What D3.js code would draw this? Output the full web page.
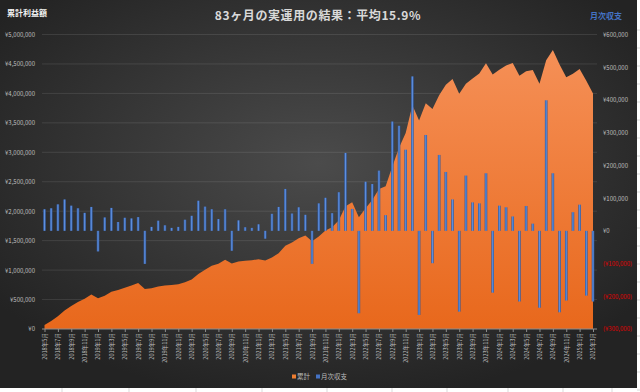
<!DOCTYPE html>
<html>
<head>
<meta charset="utf-8">
<script src="https://cdn.jsdelivr.net/npm/d3@7/dist/d3.min.js"></script>
<style>
  body { margin: 0; background: #fff; }
  text { font-family: "Noto Sans CJK JP", "Noto Sans", sans-serif; }
</style>
</head>
<body>
<svg id="chart" width="640" height="392"></svg>
<script>
// categories: 83 months, 2018年5月 .. 2025年3月
const months = [
  "2018年5月","2018年6月","2018年7月","2018年8月","2018年9月","2018年10月","2018年11月","2018年12月",
  "2019年1月","2019年2月","2019年3月","2019年4月","2019年5月","2019年6月","2019年7月","2019年8月","2019年9月","2019年10月","2019年11月","2019年12月",
  "2020年1月","2020年2月","2020年3月","2020年4月","2020年5月","2020年6月","2020年7月","2020年8月","2020年9月","2020年10月","2020年11月","2020年12月",
  "2021年1月","2021年2月","2021年3月","2021年4月","2021年5月","2021年6月","2021年7月","2021年8月","2021年9月","2021年10月","2021年11月","2021年12月",
  "2022年1月","2022年2月","2022年3月","2022年4月","2022年5月","2022年6月","2022年7月","2022年8月","2022年9月","2022年10月","2022年11月","2022年12月",
  "2023年1月","2023年2月","2023年3月","2023年4月","2023年5月","2023年6月","2023年7月","2023年8月","2023年9月","2023年10月","2023年11月","2023年12月",
  "2024年1月","2024年2月","2024年3月","2024年4月","2024年5月","2024年6月","2024年7月","2024年8月","2024年9月","2024年10月","2024年11月","2024年12月",
  "2025年1月","2025年2月","2025年3月"
];

// 月次収支 (yen)
const monthly = [
  66000, 69000, 81000, 96000, 77000, 69000, 55000, 73000,
  -63000, 41000, 70000, 27000, 40000, 38000, 42000, -101000, 12000, 31000, 17000, 9000,
  12000, 34000, 46000, 92000, 74000, 66000, 36000, 66000, -61000, 32000, 11000, 9000,
  20000, -24000, 52000, 73000, 128000, 53000, 72000, 49000, -101000, 84000, 101000, 54000,
  118000, 238000, 67000, -252000, 150000, 143000, 184000, 48000, 334000, 321000, 248000, 472000,
  -257000, 293000, -99000, 232000, 180000, 96000, -247000, 169000, 87000, 84000, 176000, -189000,
  77000, 72000, 44000, -216000, 76000, 22000, -235000, 399000, 176000, -249000, -213000, 57000,
  80000, -198000, -216000
];

// 累計 (yen)
const cumulative = [
  66000, 135000, 216000, 312000, 389000, 458000, 513000, 586000,
  523000, 564000, 634000, 661000, 701000, 739000, 781000, 680000, 692000, 723000, 740000, 749000,
  761000, 795000, 841000, 933000, 1007000, 1073000, 1109000, 1175000, 1114000, 1146000, 1157000, 1166000,
  1186000, 1162000, 1214000, 1287000, 1415000, 1468000, 1540000, 1589000, 1488000, 1572000, 1673000, 1727000,
  1845000, 2083000, 2150000, 1898000, 2048000, 2191000, 2375000, 2423000, 2757000, 3078000, 3326000, 3798000,
  3541000, 3834000, 3735000, 3967000, 4147000, 4243000, 3996000, 4165000, 4252000, 4336000, 4512000, 4323000,
  4400000, 4472000, 4516000, 4300000, 4376000, 4398000, 4163000, 4562000, 4738000, 4489000, 4276000, 4333000,
  4413000, 4215000, 3999000
];

const leftTicks = [0, 500000, 1000000, 1500000, 2000000, 2500000, 3000000, 3500000, 4000000, 4500000, 5000000];
const rightTicks = [-300000, -200000, -100000, 0, 100000, 200000, 300000, 400000, 500000, 600000];

const title = "83ヶ月の実運用の結果：平均15.9%";

let svg = d3.select("#chart");
let W = 637, H = 388;
let plot = { left: 42, right: 597, top: 34.5, bottom: 329 };

// gradients
let defs = svg.append("defs");
let bg = defs.append("radialGradient").attr("id", "bg")
    .attr("cx", "50%").attr("cy", "42%").attr("r", "62%");
bg.append("stop").attr("offset", "0%").attr("stop-color", "#4b4b4b");
bg.append("stop").attr("offset", "100%").attr("stop-color", "#232323");
let ag = defs.append("linearGradient").attr("id", "areaFill")
    .attr("gradientUnits", "userSpaceOnUse")
    .attr("x1", 0).attr("y1", plot.top).attr("x2", 0).attr("y2", plot.bottom);
ag.append("stop").attr("offset", "0%").attr("stop-color", "#f6925a");
ag.append("stop").attr("offset", "100%").attr("stop-color", "#e8681c");
let bgr = defs.append("linearGradient").attr("id", "barFill")
    .attr("x1", 0).attr("y1", 0).attr("x2", 1).attr("y2", 0);
bgr.append("stop").attr("offset", "0%").attr("stop-color", "#2f5597");
bgr.append("stop").attr("offset", "50%").attr("stop-color", "#5f90df");
bgr.append("stop").attr("offset", "100%").attr("stop-color", "#2f5597");

// spreadsheet cells behind the chart
[62, 129, 196, 262, 327, 392, 447, 508, 563, 612].forEach(function(cx) {
    svg.append("line").attr("x1", cx).attr("x2", cx).attr("y1", H).attr("y2", 392)
        .attr("stroke", "#d9d9d9");
});
[30, 48, 66, 84, 102, 120, 138, 156, 174, 192, 210, 228, 246, 264, 282, 300, 318, 336, 354, 372, 390].forEach(function(cy) {
    svg.append("line").attr("x1", W).attr("x2", 640).attr("y1", cy).attr("y2", cy)
        .attr("stroke", "#d9d9d9");
});

svg.append("rect").attr("width", W).attr("height", H).attr("fill", "url(#bg)");

// scales
let x = d3.scalePoint().domain(months).range([44.5, 593]);
let yL = d3.scaleLinear().domain([0, 5000000]).range([plot.bottom, plot.top]);
let yR = d3.scaleLinear().domain([-300000, 600000]).range([plot.bottom, plot.top]);
let yen = d3.format(",");

// gridlines
svg.append("g").selectAll("line")
    .data(leftTicks.slice(1))
    .enter().append("line")
    .attr("x1", plot.left).attr("x2", plot.right)
    .attr("y1", d => yL(d)).attr("y2", d => yL(d))
    .attr("stroke", "#ffffff").attr("stroke-opacity", 0.1);

// cumulative area
let area = d3.area()
    .x((d, i) => x(months[i]))
    .y0(yL(0))
    .y1(d => yL(d));
svg.append("path")
    .datum(cumulative)
    .attr("d", area)
    .attr("fill", "url(#areaFill)");

// monthly bars
let bw = 2.6;
svg.append("g").selectAll("rect")
    .data(monthly)
    .enter().append("rect")
    .attr("x", (d, i) => x(months[i]) - bw / 2)
    .attr("width", bw)
    .attr("y", d => yR(Math.max(0, d)))
    .attr("height", d => Math.abs(yR(d) - yR(0)))
    .attr("fill", "url(#barFill)");

// left axis
let leftAxis = svg.append("g")
    .attr("transform", `translate(37,0)`)
    .call(d3.axisLeft(yL).tickValues(leftTicks).tickSize(0).tickPadding(2)
        .tickFormat(d => "¥" + yen(d)));
leftAxis.select(".domain").remove();
leftAxis.selectAll("text").attr("fill", "#bfbfbf").attr("font-size", "6px");

// right axis
let rightAxis = svg.append("g")
    .attr("transform", `translate(${plot.right},0)`)
    .call(d3.axisRight(yR).tickValues(rightTicks).tickSize(0).tickPadding(6)
        .tickFormat(d => d < 0 ? `(¥${yen(-d)})` : "¥" + yen(d)));
rightAxis.select(".domain").remove();
rightAxis.selectAll("text")
    .attr("fill", d => d < 0 ? "#e00000" : "#bfbfbf")
    .attr("font-size", "6px");

// category axis
svg.append("line")
    .attr("x1", plot.left).attr("x2", plot.right)
    .attr("y1", plot.bottom).attr("y2", plot.bottom)
    .attr("stroke", "#8c8c8c");
let xAxis = svg.append("g")
    .attr("transform", `translate(0,${plot.bottom})`)
    .call(d3.axisBottom(x).tickValues(months.filter((d, i) => i % 2 === 0)).tickSize(3));
xAxis.select(".domain").remove();
xAxis.selectAll("line").attr("stroke", "#8c8c8c");
xAxis.selectAll("text")
    .attr("transform", "rotate(-90)")
    .attr("x", -4).attr("y", 0).attr("dy", "0.35em")
    .attr("text-anchor", "end")
    .attr("fill", "#bfbfbf")
    .attr("font-size", "5.6px");

// titles
svg.append("text")
    .text(title)
    .attr("x", 318).attr("y", 20)
    .attr("text-anchor", "middle")
    .attr("font-size", "12px").attr("font-weight", "bold")
    .attr("letter-spacing", "0.6px")
    .attr("fill", "#d9d9d9");
svg.append("text")
    .text("累計利益額")
    .attr("x", 7).attr("y", 16)
    .attr("font-size", "8px").attr("font-weight", "bold")
    .attr("fill", "#f2f2f2");
svg.append("text")
    .text("月次収支")
    .attr("x", 590).attr("y", 19)
    .attr("font-size", "8px").attr("font-weight", "bold")
    .attr("fill", "#4472c4");

// legend
let legend = svg.append("g").attr("transform", "translate(292,377)");
[["累計", "#ed7d31", 0], ["月次収支", "#4472c4", 24]].forEach(function(d) {
    legend.append("rect").attr("x", d[2]).attr("y", -2.5).attr("width", 4).attr("height", 4).attr("fill", d[1]);
    legend.append("text").text(d[0]).attr("x", d[2] + 5).attr("y", 2.3)
        .attr("font-size", "6.5px").attr("fill", "#bfbfbf");
});
</script>
</body>
</html>
